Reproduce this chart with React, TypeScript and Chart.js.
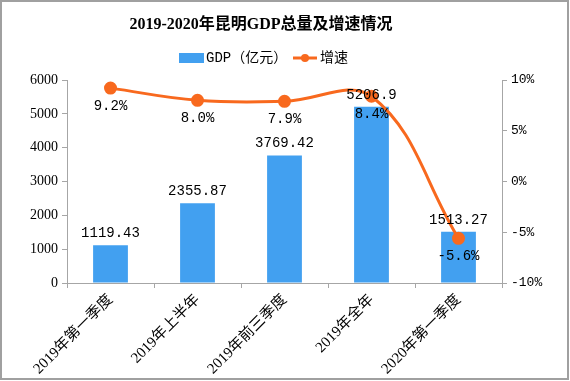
import React, { useEffect, useRef } from "react";
import { Chart, registerables } from "chart.js";

Chart.register(...registerables);

const titleText = "2019-2020年昆明GDP总量及增速情况";
const categories = ["2019年第一季度", "2019年上半年", "2019年前三季度", "2019年全年", "2020年第一季度"];
const gdpValues = [1119.43, 2355.87, 3769.42, 5206.9, 1513.27];
const growthRates = [9.2, 8.0, 7.9, 8.4, -5.6];
const gdpLabel = "GDP（亿元）";
const growthLabel = "增速";

const BLUE = "#42A0F0";
const ORANGE = "#F8691E";
const AXIS = "#A6A6A6";
const SERIF = '"Liberation Serif", "Noto Sans CJK SC", serif';
const MONO = '"Liberation Mono", "Noto Sans CJK SC", monospace';

const decorPlugin = {
  id: "decor",
  afterDraw(chart: any) {
    const ctx = chart.ctx;
    ctx.save();
    ctx.strokeStyle = "#A0A0A0";
    ctx.lineWidth = 2;
    ctx.strokeRect(1, 1, chart.width - 3, chart.height - 3);
    ctx.fillStyle = "#000";
    ctx.font = 'bold 16px ' + SERIF;
    ctx.textAlign = "center";
    ctx.textBaseline = "middle";
    ctx.fillText(titleText, 261, 25);
    ctx.font = "14px " + MONO;
    ctx.textAlign = "left";
    ctx.fillStyle = BLUE;
    ctx.fillRect(179, 53, 25, 10);
    ctx.fillStyle = "#000";
    ctx.fillText(gdpLabel, 206, 58);
    ctx.strokeStyle = ORANGE;
    ctx.lineWidth = 3;
    ctx.beginPath();
    ctx.moveTo(293, 58);
    ctx.lineTo(317, 58);
    ctx.stroke();
    ctx.fillStyle = ORANGE;
    ctx.beginPath();
    ctx.arc(305, 58, 4, 0, Math.PI * 2);
    ctx.fill();
    ctx.fillStyle = "#000";
    ctx.fillText(growthLabel, 320, 58);
    ctx.restore();
  },
  afterDatasetsDraw(chart: any) {
    const ctx = chart.ctx;
    ctx.save();
    ctx.font = "14px " + MONO;
    ctx.fillStyle = "#000";
    ctx.textAlign = "center";
    ctx.textBaseline = "middle";
    const barMeta = chart.getDatasetMeta(0);
    barMeta.data.forEach((el: any, i: number) => {
      ctx.fillText(String(gdpValues[i]), el.x, el.y - 12);
    });
    const lineMeta = chart.getDatasetMeta(1);
    lineMeta.data.forEach((el: any, i: number) => {
      ctx.fillText(growthRates[i].toFixed(1) + "%", el.x, el.y + 18);
    });
    ctx.restore();
  },
};

export default function App() {
  const ref = useRef<HTMLCanvasElement>(null);
  useEffect(() => {
    const chart = new Chart(ref.current!, {
      type: "bar",
      data: {
        labels: categories,
        datasets: [
          {
            type: "bar",
            label: gdpLabel,
            data: gdpValues,
            backgroundColor: BLUE,
            yAxisID: "y",
            categoryPercentage: 1,
            barPercentage: 0.4,
            order: 1,
          },
          {
            type: "line",
            label: growthLabel,
            data: growthRates,
            borderColor: ORANGE,
            backgroundColor: ORANGE,
            borderWidth: 3,
            pointRadius: 5,
            pointBackgroundColor: ORANGE,
            pointBorderColor: ORANGE,
            tension: 0.4,
            yAxisID: "y1",
            order: 0,
          } as any,
        ],
      },
      options: {
        responsive: false,
        animation: false,
        devicePixelRatio: 1,
        layout: { padding: { top: 80, left: 0, right: 0, bottom: 0 } },
        plugins: {
          legend: { display: false },
          title: { display: false },
          tooltip: { enabled: false },
        },
        scales: {
          x: {
            offset: true,
            grid: { display: true, drawOnChartArea: false, drawTicks: true, tickLength: 5, color: AXIS, offset: true },
            border: { color: AXIS, width: 1 },
            ticks: {
              color: "#000",
              font: { family: SERIF, size: 15 },
              minRotation: 45,
              maxRotation: 45,
              autoSkip: false,
            },
            afterFit(scale: any) {
              scale.height = 98;
            },
          },
          y: {
            position: "left",
            min: 0,
            max: 6000,
            grid: { display: true, drawOnChartArea: false, drawTicks: true, tickLength: 5, color: AXIS },
            border: { color: AXIS, width: 1 },
            ticks: {
              stepSize: 1000,
              color: "#000",
              font: { family: SERIF, size: 14 },
              padding: 4,
              callback: (v: any) => String(v),
            },
            afterFit(scale: any) {
              scale.width = 67;
            },
          },
          y1: {
            position: "right",
            min: -10,
            max: 10,
            grid: { display: true, drawOnChartArea: false, drawTicks: true, tickLength: 5, color: AXIS },
            border: { color: AXIS, width: 1 },
            ticks: {
              stepSize: 5,
              color: "#000",
              font: { family: MONO, size: 13 },
              padding: 4,
              callback: (v: any) => v + "%",
            },
            afterFit(scale: any) {
              scale.width = 68;
            },
          },
        },
      },
      plugins: [decorPlugin],
    });
    return () => chart.destroy();
  }, []);
  return (
    <div style={{ position: "fixed", left: 0, top: 0, width: 570, height: 381, background: "#fff" }}>
      <canvas ref={ref} width={570} height={381} />
    </div>
  );
}
